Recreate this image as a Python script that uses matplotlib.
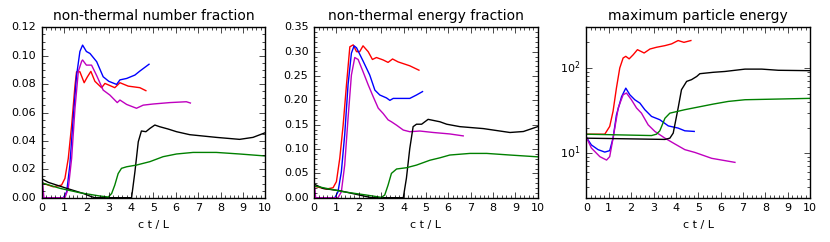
import matplotlib
matplotlib.use("Agg")
import matplotlib.pyplot as plt
from matplotlib.ticker import AutoMinorLocator, MultipleLocator

plt.style.use("classic")
plt.rcParams["figure.facecolor"] = "white"
plt.rcParams["savefig.facecolor"] = "white"
plt.rcParams["mathtext.fontset"] = "dejavusans"
plt.rcParams["font.family"] = ["DejaVu Sans"]

# ---- non-thermal number fraction ----
num_red_t = [0, 0.07, 0.52, 0.89, 1.04, 1.19, 1.34, 1.49, 1.56, 1.71, 1.9, 2.04, 2.2, 2.38, 2.68, 2.83, 3.27, 3.5, 3.87, 4.39, 4.66]
num_red = [0.011, 0.0101, 0.0077, 0.0089, 0.0136, 0.0277, 0.051, 0.079, 0.0887, 0.0887, 0.081, 0.085, 0.089, 0.082, 0.0775, 0.0805, 0.0775, 0.081, 0.0786, 0.0775, 0.0754]
num_blue_t = [0, 0.97, 1.12, 1.26, 1.41, 1.56, 1.71, 1.83, 2.0, 2.16, 2.46, 2.75, 3.0, 3.35, 3.5, 3.8, 4.17, 4.39, 4.8]
num_blue = [0.0, 0.0, 0.0042, 0.023, 0.056, 0.086, 0.103, 0.1075, 0.103, 0.1016, 0.0958, 0.0852, 0.082, 0.0798, 0.083, 0.084, 0.0864, 0.0892, 0.094]
num_mag_t = [0, 0.04, 0.1, 1.04, 1.19, 1.34, 1.49, 1.64, 1.79, 1.83, 2.0, 2.23, 2.46, 2.75, 3.05, 3.38, 3.5, 3.8, 4.24, 4.54, 4.98, 5.73, 6.47, 6.65]
num_mag = [0.013, 0.011, 0.0, 0.0, 0.0066, 0.0277, 0.063, 0.089, 0.0962, 0.097, 0.0934, 0.0934, 0.086, 0.0758, 0.0723, 0.067, 0.0688, 0.0657, 0.063, 0.0652, 0.066, 0.067, 0.0676, 0.0667]
num_blk_t = [0, 0.04, 0.3, 1.12, 1.86, 2.23, 2.38, 4.02, 4.17, 4.32, 4.46, 4.66, 4.84, 5.06, 5.28, 5.65, 6.03, 6.62, 7.81, 8.85, 9.45, 10]
num_blk = [0.014, 0.013, 0.0108, 0.0066, 0.003, 0.0007, 0.0, 0.0, 0.0183, 0.0394, 0.047, 0.0465, 0.0488, 0.0512, 0.05, 0.0484, 0.0465, 0.0444, 0.0425, 0.0411, 0.0425, 0.0458]
num_grn_t = [0, 0.82, 1.71, 2.6, 2.98, 3.13, 3.27, 3.42, 3.57, 3.8, 4.24, 4.84, 5.43, 6.03, 6.77, 7.81, 8.85, 10]
num_grn = [0.0105, 0.0066, 0.0035, 0.0012, 0.0005, 0.003, 0.0089, 0.017, 0.0207, 0.0218, 0.023, 0.0254, 0.0289, 0.0308, 0.0319, 0.0319, 0.0308, 0.0294]

# ---- non-thermal energy fraction ----
en_red_t = [0, 0.1, 0.55, 0.85, 1.0, 1.15, 1.3, 1.45, 1.6, 1.75, 1.9, 2.04, 2.19, 2.42, 2.61, 2.79, 3.09, 3.31, 3.51, 3.76, 4.28, 4.69]
en_red = [0.024, 0.0226, 0.0178, 0.0205, 0.033, 0.081, 0.149, 0.232, 0.31, 0.314, 0.30, 0.30, 0.312, 0.30, 0.284, 0.288, 0.283, 0.278, 0.285, 0.279, 0.271, 0.262]
en_blue_t = [0, 0.93, 1.07, 1.22, 1.37, 1.52, 1.67, 1.79, 1.9, 2.19, 2.49, 2.72, 2.94, 3.24, 3.39, 3.54, 4.28, 4.58, 4.85]
en_blue = [0.0, 0.0, 0.012, 0.053, 0.129, 0.232, 0.297, 0.312, 0.308, 0.281, 0.252, 0.221, 0.211, 0.205, 0.20, 0.204, 0.204, 0.211, 0.218]
en_mag_t = [0, 0.03, 0.07, 1.07, 1.22, 1.37, 1.52, 1.67, 1.82, 1.97, 2.19, 2.42, 2.64, 2.87, 3.09, 3.31, 3.46, 3.69, 3.99, 4.28, 4.73, 5.33, 6.07, 6.67]
en_mag = [0.03, 0.0226, 0.0, 0.0, 0.012, 0.067, 0.163, 0.252, 0.288, 0.284, 0.259, 0.232, 0.208, 0.184, 0.173, 0.16, 0.156, 0.149, 0.139, 0.1356, 0.137, 0.134, 0.131, 0.127]
en_blk_t = [0, 0.03, 0.4, 1.15, 1.9, 2.57, 3.99, 4.13, 4.28, 4.43, 4.58, 4.81, 5.1, 5.63, 5.93, 6.52, 7.57, 8.76, 9.36, 10]
en_blk = [0.029, 0.0274, 0.019, 0.0144, 0.0068, 0.0, 0.0, 0.04, 0.101, 0.146, 0.151, 0.151, 0.161, 0.156, 0.151, 0.146, 0.142, 0.134, 0.136, 0.146]
en_grn_t = [0, 0.03, 1.3, 2.34, 3.01, 3.16, 3.31, 3.46, 3.69, 4.13, 4.58, 5.18, 5.63, 6.07, 6.97, 7.72, 8.76, 10]
en_grn = [0.025, 0.024, 0.0123, 0.0055, 0.0007, 0.0055, 0.026, 0.05, 0.059, 0.0616, 0.067, 0.077, 0.082, 0.0877, 0.091, 0.091, 0.0877, 0.084]

# ---- maximum particle energy ----
emax_red_t = [0, 0.82, 1.04, 1.19, 1.34, 1.49, 1.64, 1.76, 1.91, 2.09, 2.28, 2.43, 2.58, 2.84, 3.13, 3.51, 3.81, 4.1, 4.36, 4.67]
emax_red = [16.7, 16.7, 20.6, 31, 58, 100, 131, 137, 128, 143, 164, 157, 150, 167, 175, 183, 192, 210, 200, 210]
emax_blue_t = [0, 0.22, 0.52, 0.82, 1.04, 1.19, 1.34, 1.57, 1.76, 1.94, 2.16, 2.39, 2.61, 2.91, 3.28, 3.66, 4.1, 4.4, 4.82]
emax_blue = [15.3, 12.5, 11, 10.3, 10.7, 15, 28, 46, 58, 48.5, 42.4, 38.7, 32.4, 27, 24.7, 20.9, 19.7, 18.3, 18]
emax_mag_t = [0, 0.22, 0.6, 0.9, 1.04, 1.19, 1.42, 1.64, 1.79, 2.01, 2.24, 2.46, 2.76, 3.06, 3.51, 3.96, 4.4, 4.85, 5.6, 6.64]
emax_mag = [15.3, 11.5, 9.1, 8.3, 9.1, 15, 33.9, 48.5, 50.8, 42.4, 33.9, 29.5, 21.5, 18, 15, 12.8, 11, 10.2, 8.7, 7.8]
emax_blk_t = [0, 1.42, 3.51, 3.73, 3.88, 4.1, 4.25, 4.48, 4.7, 4.93, 5.07, 5.67, 6.19, 7.09, 7.84, 8.58, 10]
emax_blk = [15, 14.8, 14.5, 15, 17.2, 33.9, 55.6, 69.6, 73, 79.5, 85.7, 89, 91, 97, 97, 94, 93]
emax_grn_t = [0, 2.91, 3.13, 3.28, 3.51, 3.73, 4.4, 5.67, 6.34, 7.09, 8.58, 10]
emax_grn = [16.7, 16.1, 16.7, 18.3, 25.7, 29.5, 32.4, 37.7, 40.5, 42.4, 43.2, 44]

titles = ["non-thermal number fraction", "non-thermal energy fraction", "maximum particle energy"]

panels = [
    [(num_red_t, num_red, "r"), (num_blue_t, num_blue, "b"), (num_mag_t, num_mag, "m"),
     (num_blk_t, num_blk, "k"), (num_grn_t, num_grn, "g")],
    [(en_red_t, en_red, "r"), (en_blue_t, en_blue, "b"), (en_mag_t, en_mag, "m"),
     (en_blk_t, en_blk, "k"), (en_grn_t, en_grn, "g")],
    [(emax_red_t, emax_red, "r"), (emax_blue_t, emax_blue, "b"), (emax_mag_t, emax_mag, "m"),
     (emax_blk_t, emax_blk, "k"), (emax_grn_t, emax_grn, "g")],
]

fig, axes = plt.subplots(1, 3, figsize=(8.3, 2.42), dpi=100)
plt.subplots_adjust(left=0.0502, right=0.976, bottom=0.183, top=0.887, wspace=0.218)

for i, ax in enumerate(axes):
    for t, v, c in panels[i]:
        ax.plot(t, v, color=c, lw=1.0)
    ax.set_xlim(0, 10)
    ax.set_title(titles[i], fontsize=10)
    ax.set_xlabel("c t / L", fontsize=8)
    ax.xaxis.set_major_locator(MultipleLocator(1))
    ax.xaxis.set_minor_locator(MultipleLocator(0.2))
    ax.tick_params(labelsize=8)

axes[0].set_ylim(0, 0.12)
axes[0].yaxis.set_minor_locator(AutoMinorLocator())
axes[1].set_ylim(0, 0.35)
axes[1].yaxis.set_minor_locator(AutoMinorLocator())
axes[2].set_yscale("log")
axes[2].set_ylim(3, 300)

fig.savefig("out.png", dpi=100)
